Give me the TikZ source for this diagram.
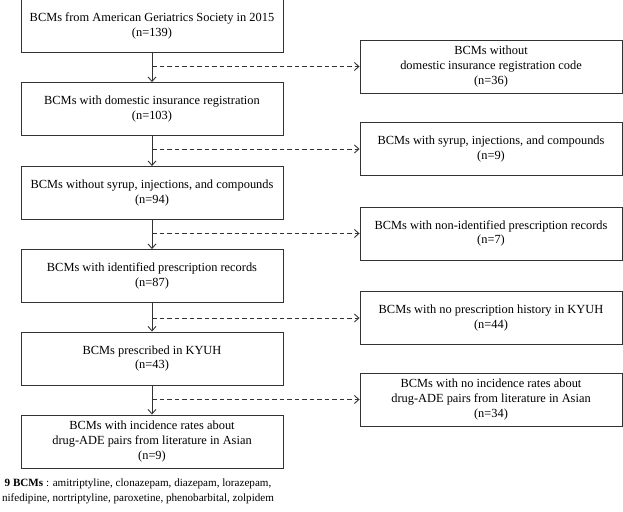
\documentclass[tikz,border=0pt]{standalone}
\usepackage{fontspec}
\setmainfont{Liberation Serif}
\usetikzlibrary{arrows.meta}

\begin{document}
\begin{tikzpicture}[x=1pt, y=-1pt,
  box/.style={draw=black!80, line width=0.9pt, minimum width=262pt, minimum height=53pt, align=center, inner sep=2pt, font=\fontsize{12.4}{14.8}\selectfont},
  flow/.style={draw=black!80, line width=0.9pt, -{Straight Barb[length=4.5pt,width=8pt]}},
  drop/.style={flow, dash pattern=on 4.5pt off 3pt}]
\useasboundingbox (0,0) rectangle (623,511);

\node[box] (ags) at (152,26) {BCMs from American Geriatrics Society in 2015\\(n=139)};
\node[box] (reg) at (152,109) {BCMs with domestic insurance registration\\(n=103)};
\node[box] (nosyr) at (152,193) {BCMs without syrup, injections, and compounds\\(n=94)};
\node[box] (ident) at (152,276) {BCMs with identified prescription records\\(n=87)};
\node[box] (kyuh) at (152,358.5) {BCMs prescribed in KYUH\\(n=43)};
\node[box] (asian) at (152,441.5) {BCMs with incidence rates about\\drug-ADE pairs from literature in Asian\\(n=9)};

\node[box] (noreg_x) at (491,66.5) {BCMs without\\domestic insurance registration code\\(n=36)};
\node[box] (syr_x) at (491,149) {BCMs with syrup, injections, and compounds\\(n=9)};
\node[box] (nonid_x) at (491,233.5) {BCMs with non-identified prescription records\\(n=7)};
\node[box] (nohist_x) at (491,318) {BCMs with no prescription history in KYUH\\(n=44)};
\node[box] (noasian_x) at (491,399.5) {BCMs with no incidence rates about\\drug-ADE pairs from literature in Asian\\(n=34)};

\coordinate (c1) at (152,66.5);
\coordinate (c2) at (152,149);
\coordinate (c3) at (152,233.5);
\coordinate (c4) at (152,318);
\coordinate (c5) at (152,399.5);

\draw[flow] (ags)--(reg);
\draw[flow] (reg)--(nosyr);
\draw[flow] (nosyr)--(ident);
\draw[flow] (ident)--(kyuh);
\draw[flow] (kyuh)--(asian);

\draw[drop] (c1)--(noreg_x);
\draw[drop] (c2)--(syr_x);
\draw[drop] (c3)--(nonid_x);
\draw[drop] (c4)--(nohist_x);
\draw[drop] (c5)--(noasian_x);

\node[align=center, inner sep=0pt, font=\fontsize{11.1}{15}\selectfont] (drugs) at (138,491.5) {\textbf{9 BCMs} : amitriptyline, clonazepam, diazepam, lorazepam,\\nifedipine, nortriptyline, paroxetine, phenobarbital, zolpidem};
\end{tikzpicture}
\end{document}
